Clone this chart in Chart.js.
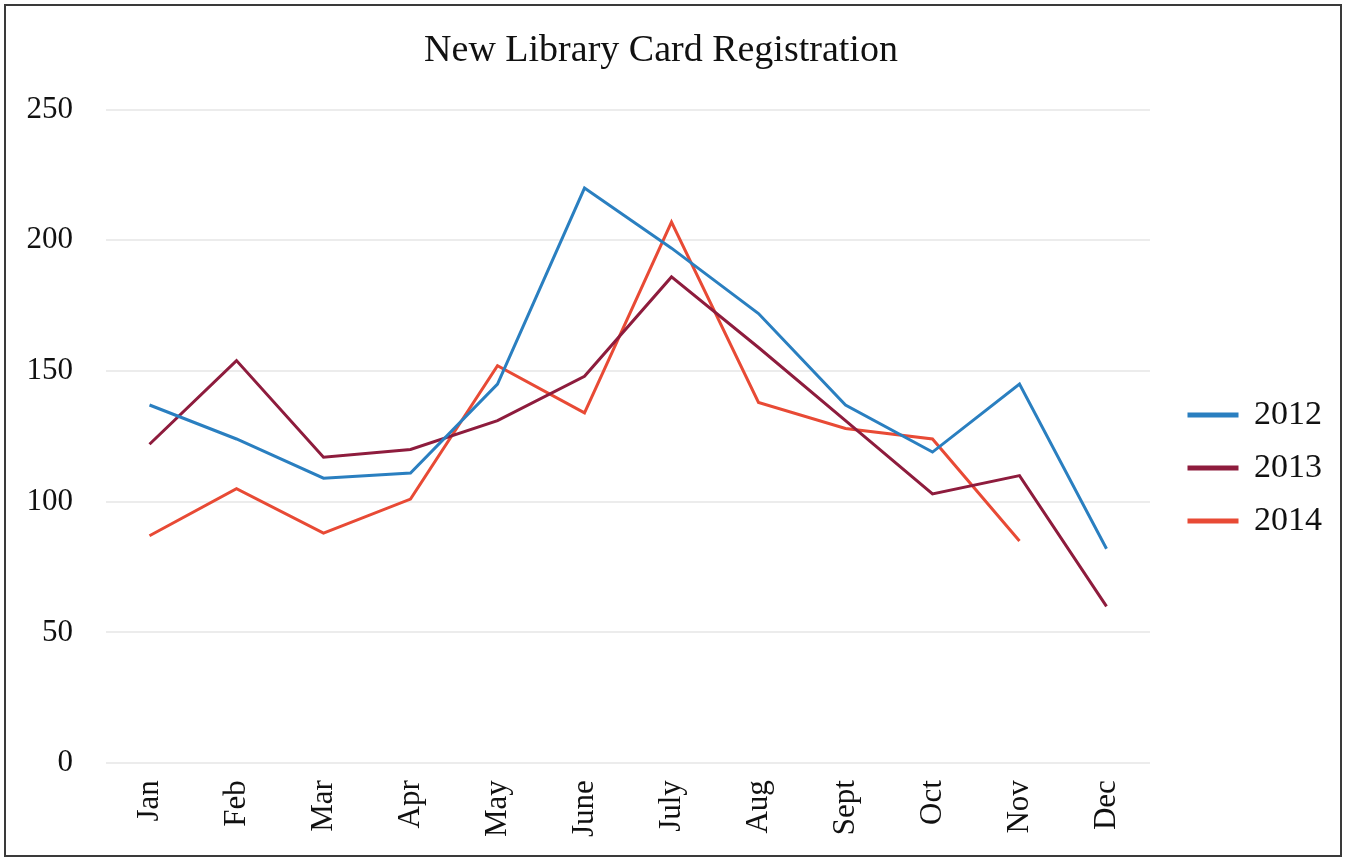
<!DOCTYPE html>
<html>
<head>
<meta charset="utf-8">
<title>New Library Card Registration</title>
<script src="https://cdn.jsdelivr.net/npm/chart.js@4"></script>
<style>
  html, body { margin: 0; padding: 0; background: #fff; }
  #wrap { position: relative; width: 1345px; height: 861px; }
  #frame { position: absolute; left: 4px; top: 4px; width: 1334px; height: 849px;
           border: 2px solid #3a3a3a; pointer-events: none; }
</style>
</head>
<body>
<div id="wrap">
  <canvas id="grafica"></canvas>
  <div id="frame"></div>
</div>
<script>
// months on the x axis
const meses = ['Jan', 'Feb', 'Mar', 'Apr', 'May', 'June', 'July', 'Aug', 'Sept', 'Oct', 'Nov', 'Dec'];

// registrations per year
const datos2012 = [137, 124, 109, 111, 145, 220, 197, 172, 137, 119, 145, 82];
const datos2013 = [122, 154, 117, 120, 131, 148, 186, 159, 131, 103, 110, 60];
const datos2014 = [87, 105, 88, 101, 152, 134, 207, 138, 128, 124, 85, null];

const ticksY = [0, 50, 100, 150, 200, 250];

const serie = (label, data, color) => ({
    label: label,
    data: data,
    borderColor: color,
    backgroundColor: color,
    borderWidth: 3,
    pointRadius: 0,
    tension: 0,
    spanGaps: false
});

// push the legend a bit further from the plot, like the original
const moverLeyenda = {
    id: 'moverLeyenda',
    afterLayout: function (chart) {
        if (chart.legend) {
            chart.legend.left += 20;
            chart.legend.right += 20;
        }
    }
};

const ctx = document.getElementById('grafica').getContext('2d');
new Chart(ctx, {
    type: 'line',
    data: {
        labels: meses,
        datasets: [
            serie('2012', datos2012, '#2a7fc0'),
            serie('2013', datos2013, '#8e1c3d'),
            serie('2014', datos2014, '#e84a35')
        ]
    },
    plugins: [moverLeyenda],
    options: {
        responsive: true,
        maintainAspectRatio: false,
        animation: false,
        layout: { padding: { left: 10, right: 33, top: 20, bottom: 7 } },
        plugins: {
            title: {
                display: true,
                text: 'New Library Card Registration',
                color: '#111',
                font: { family: 'Liberation Serif', size: 38, weight: 'normal' },
                padding: { top: 8, bottom: 36 }
            },
            legend: {
                position: 'right',
                title: { display: true, text: ' ', font: { size: 10 }, padding: 25 },
                labels: {
                    color: '#111',
                    font: { family: 'Liberation Serif', size: 34 },
                    boxWidth: 48,
                    boxHeight: 2,
                    padding: 19
                }
            },
            tooltip: { enabled: false }
        },
        scales: {
            x: {
                offset: true,
                grid: { display: false, drawTicks: false },
                border: { display: false },
                ticks: {
                    color: '#111',
                    font: { family: 'Liberation Serif', size: 31 },
                    maxRotation: 90,
                    minRotation: 90,
                    padding: 17
                }
            },
            y: {
                min: 0,
                max: 250,
                afterFit: function (scale) { scale.width = 96; },
                afterBuildTicks: function (scale) { scale.ticks = ticksY.map(v => ({ value: v })); },
                grid: { color: '#ececec', lineWidth: 2, drawTicks: false },
                border: { display: false },
                ticks: {
                    color: '#111',
                    font: { family: 'Liberation Serif', size: 31 },
                    padding: 33
                }
            }
        }
    }
});
</script>
</body>
</html>
